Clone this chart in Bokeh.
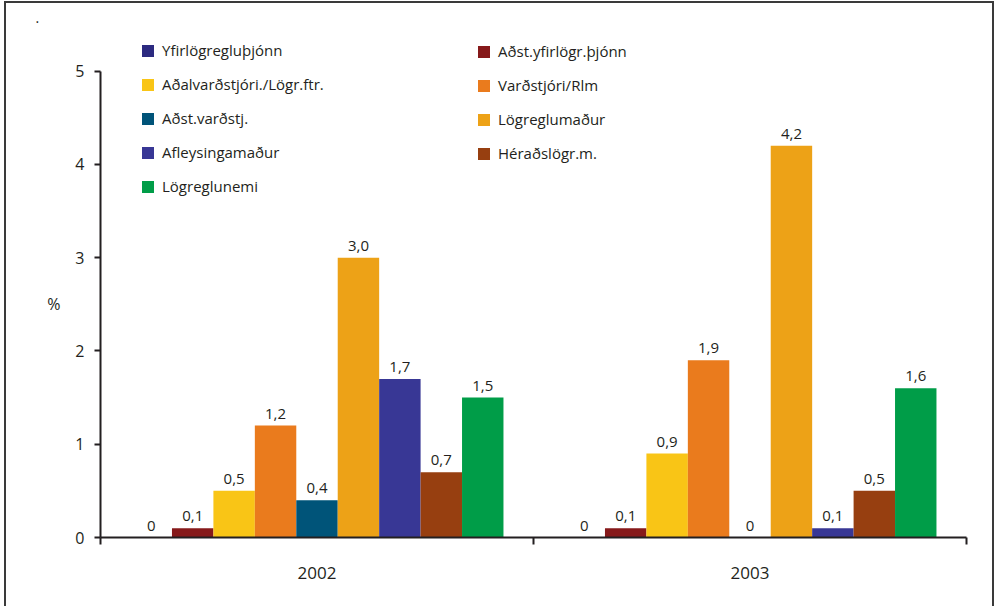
from bokeh.plotting import figure
from bokeh.models import (ColumnDataSource, Range1d, LinearAxis,
                          FixedTicker, Legend, LegendItem)
from bokeh.transform import dodge
from bokeh.core.properties import value
from bokeh.embed import file_html
from bokeh.resources import INLINE

years = ["2002", "2003"]
series = ["Yfirlögregluþjónn", "Aðst.yfirlögr.þjónn", "Aðalvarðstjóri./Lögr.ftr.",
          "Varðstjóri/Rlm", "Aðst.varðstj.", "Lögreglumaður",
          "Afleysingamaður", "Héraðslögr.m.", "Lögreglunemi"]
v2002 = [0, 0.1, 0.5, 1.2, 0.4, 3.0, 1.7, 0.7, 1.5]
v2003 = [0, 0.1, 0.9, 1.9, 0, 4.2, 0.1, 0.5, 1.6]
colors = ["#2c2a80", "#86191a", "#f9c516", "#ea7b1d", "#005479", "#eda217",
          "#383795", "#973f10", "#009d48"]
y_ticks = [0, 1, 2, 3, 4, 5]
y_label = "%"

FONT = "Open Sans"
TXT = "#231f20"

def fmt(v):
    return "0" if v == 0 else f"{v:.1f}".replace(".", ",")

# category centres on a numeric scale: year i occupies [i, i+1]
data = {"year": years, "xc": [i + 0.5 for i in range(len(years))]}
for i in range(len(series)):
    vals = [v2002[i], v2003[i]]
    data[f"s{i}"] = vals
    data[f"l{i}"] = [fmt(v) for v in vals]
src = ColumnDataSource(data)

p = figure(frame_width=866, frame_height=513, x_range=Range1d(0, len(years)),
           y_range=Range1d(0, 5.5), output_backend="svg", toolbar_location=None,
           x_axis_type=None, y_axis_type=None, title=".",
           min_border_left=94, min_border_right=26, min_border_top=21, min_border_bottom=69)
p.outline_line_color = None
p.xgrid.visible = False
p.ygrid.visible = False
p.styles = {"border-top": "2px solid #3a3a3a", "border-left": "2px solid #3a3a3a",
            "border-right": "2px solid #3a3a3a", "margin-left": "4px", "margin-top": "1px"}
p.title.align = "left"
p.title.offset = -65
p.title.standoff = 4
p.title.text_font = FONT
p.title.text_font_size = "14px"
p.title.text_font_style = "normal"
p.title.text_color = TXT

bw = 0.0957
renderers = []
for i in range(len(series)):
    off = (i - 4) * bw
    r = p.vbar(x=dodge("xc", off), top=f"s{i}", width=bw,
               source=src, fill_color=colors[i], line_color=None)
    renderers.append(r)
    p.text(x=dodge("xc", off), y=f"s{i}", text=f"l{i}", source=src,
           text_align="center", text_baseline="alphabetic", y_offset=-12,
           text_font=value(FONT), text_font_size="15px", text_color=TXT)

# x axis: labels at category centres, ticks at category boundaries
xt = FixedTicker(ticks=[i + 0.5 for i in range(len(years))],
                 minor_ticks=list(range(len(years) + 1)))
xa = LinearAxis(ticker=xt,
                major_label_overrides={i + 0.5: y for i, y in enumerate(years)})
xa.axis_line_width = 2
xa.axis_line_color = TXT
xa.major_tick_line_color = None
xa.major_tick_out = 0
xa.major_tick_in = 0
xa.minor_tick_in = 0
xa.minor_tick_out = 7
xa.minor_tick_line_width = 2
xa.minor_tick_line_color = TXT
xa.major_label_text_font = FONT
xa.major_label_text_font_size = "17px"
xa.major_label_text_color = TXT
xa.major_label_standoff = 22
p.add_layout(xa, "below")

# y axis; the "%" label is pushed down (leading blank lines) so that it sits
# at the middle of the 0..5 span rather than the middle of the frame
ya = LinearAxis(ticker=FixedTicker(ticks=y_ticks), bounds=(0, 5),
                axis_label="\n\n" + y_label, axis_label_orientation="horizontal")
ya.axis_line_width = 2
ya.axis_line_color = TXT
ya.major_tick_line_width = 2
ya.major_tick_line_color = TXT
ya.major_tick_in = 0
ya.major_tick_out = 6
ya.minor_tick_line_color = None
ya.major_label_text_font = FONT
ya.major_label_text_font_size = "16px"
ya.major_label_text_color = TXT
ya.major_label_standoff = 10
ya.axis_label_text_font = FONT
ya.axis_label_text_font_size = "16px"
ya.axis_label_text_font_style = "normal"
ya.axis_label_text_color = TXT
ya.axis_label_text_line_height = 1.04
ya.axis_label_standoff = 12
p.add_layout(ya, "left")

def mk_legend(idx, loc):
    lg = Legend(items=[LegendItem(label=series[i], renderers=[renderers[i]]) for i in idx],
                location=loc, orientation="vertical", padding=0, margin=0,
                spacing=14, glyph_width=15, glyph_height=15, label_height=20,
                label_standoff=7, label_text_font=FONT, label_text_font_size="15px",
                label_text_color=TXT, border_line_color=None, background_fill_alpha=0)
    p.add_layout(lg, "center")

mk_legend([0, 2, 4, 6, 8], (40, 341))
mk_legend([1, 3, 5, 7], (376, 374))

open("out.html", "w").write(file_html(p, INLINE))
